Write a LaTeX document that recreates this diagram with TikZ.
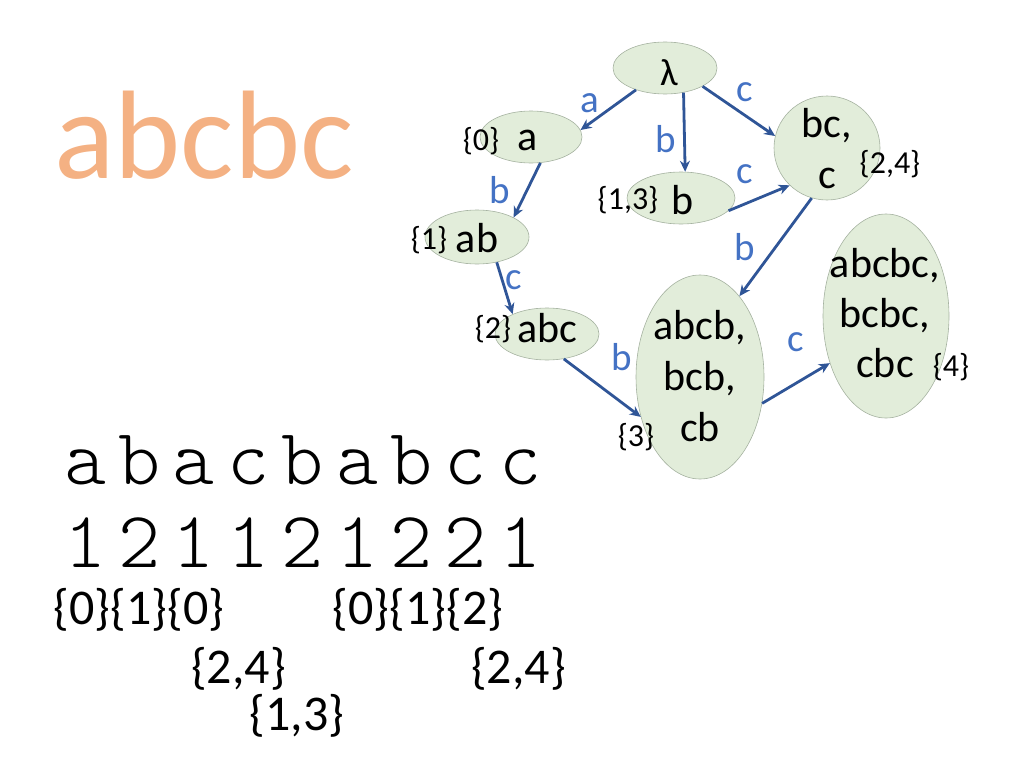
\documentclass[tikz,border=0pt]{standalone}
\usepackage{fontspec}
\setmainfont{Carlito}
\newfontfamily\courfont{Latin Modern Mono Light}
\usetikzlibrary{shapes.geometric,arrows.meta}
\definecolor{titleorange}{RGB}{244,177,131}
\definecolor{labblue}{RGB}{68,114,196}
\definecolor{arrowblue}{RGB}{47,85,151}
\definecolor{nodefill}{RGB}{226,237,218}
\definecolor{nodeline}{RGB}{165,178,160}
\newcommand\cellbox[1]{\makebox[54.4pt]{#1}}
\tikzset{
  state/.style={ellipse, draw=nodeline, line width=0.6pt, fill=nodefill, inner sep=0pt},
  nodetxt/.style={inner sep=0pt, align=center, font=\fontsize{42}{51}\selectfont},
  setlab/.style={inner sep=0pt, font=\fontsize{32}{38}\selectfont},
  edgelab/.style={inner sep=0pt, text=labblue, font=\fontsize{39}{44}\selectfont},
  trans/.style={draw=arrowblue, line width=2.8pt, -{Stealth[length=11pt,width=10pt]}},
  bigset/.style={inner sep=0pt, font=\fontsize{50}{58}\selectfont},
  mono/.style={inner sep=0pt, anchor=base west, font=\courfont\fontsize{80}{90}\selectfont}
}
\begin{document}
\begin{tikzpicture}[x=1pt,y=-1pt]
\useasboundingbox (0,0) rectangle (1024,768);
% title
\node[inner sep=0pt, anchor=base, text=titleorange, font=\fontsize{126}{136}\selectfont] (title) at (204,178) {abcbc};
% states
\node[state, minimum width=104pt, minimum height=52pt] (lam) at (665,68) {};
\node[state, minimum width=102pt, minimum height=52pt] (a) at (531,137) {};
\node[state, minimum width=108pt, minimum height=52pt] (b) at (681,198) {};
\node[state, minimum width=106pt, minimum height=104pt] (bc) at (827,148) {};
\node[state, minimum width=104pt, minimum height=54pt] (ab) at (477,237) {};
\node[state, minimum width=104pt, minimum height=52pt] (abc) at (547,334) {};
\node[state, minimum width=128pt, minimum height=204pt] (abcb) at (700,377) {};
\node[state, minimum width=126pt, minimum height=204pt] (abcbc) at (886,316) {};
% state texts
\node[inner sep=0pt, font=\fontsize{38}{44}\selectfont] (lamT) at (669,73) {λ};
\node[nodetxt] (aT) at (528,140) {a};
\node[nodetxt] (bT) at (683,200) {b};
\node[nodetxt] (bcT) at (827,148.5) {bc,\\c};
\node[nodetxt] (abT) at (477,238) {ab};
\node[nodetxt] (abcT) at (547,328) {abc};
\node[nodetxt] (abcbT) at (700,376) {abcb,\\bcb,\\cb};
\node[nodetxt, font=\fontsize{42}{50}\selectfont] (abcbcT) at (885,313) {abcbc,\\bcbc,\\cbc};
% set labels
\node[setlab] (s0) at (481,141) {\{0\}};
\node[setlab] (s13) at (628,200) {\{1,3\}};
\node[setlab] (s24) at (890,164) {\{2,4\}};
\node[setlab] (s1) at (429,240) {\{1\}};
\node[setlab] (s2) at (493,329) {\{2\}};
\node[setlab] (s3) at (636,437) {\{3\}};
\node[setlab] (s4) at (951,367) {\{4\}};
% transitions
\draw[trans] (lam.217) -- (a.8);
\draw[trans] (lam.-53) -- (b.81);
\draw[trans] (lam.-26) -- (bc.167);
\draw[trans] (b.-15) -- (bc.225);
\draw[trans] (a.-70) -- (ab.28);
\draw[trans] (bc.253) -- (abcb.64);
\draw[trans] (ab.-52) -- (abc.150);
\draw[trans] (abc.-56) -- (abcb.214);
\draw[trans] (abcb.-23) -- (abcbc.220);
% edge labels
\node[edgelab] (la) at (590,103) {a};
\node[edgelab] (lb1) at (666,139) {b};
\node[edgelab] (lc1) at (745,92) {c};
\node[edgelab] (lc2) at (745,174) {c};
\node[edgelab] (lb2) at (500,190) {b};
\node[edgelab] (lb3) at (745,247) {b};
\node[edgelab] (lc3) at (514,280) {c};
\node[edgelab] (lb4) at (622,357) {b};
\node[edgelab] (lc4) at (796,342) {c};
% bottom text
\node[mono] (word) at (57.8,484) {\cellbox{a}\cellbox{b}\cellbox{a}\cellbox{c}\cellbox{b}\cellbox{a}\cellbox{b}\cellbox{c}\cellbox{c}};
\node[mono] (digits) at (57.8,567) {\cellbox{1}\cellbox{2}\cellbox{1}\cellbox{1}\cellbox{2}\cellbox{1}\cellbox{2}\cellbox{2}\cellbox{1}};
\node[bigset] (setA) at (139,610) {\{0\}\{1\}\{0\}};
\node[bigset] (setB) at (418,610) {\{0\}\{1\}\{2\}};
\node[bigset] (setC) at (238.5,669) {\{2,4\}};
\node[bigset] (setD) at (518.5,669) {\{2,4\}};
\node[bigset] (setE) at (297,716) {\{1,3\}};
\end{tikzpicture}
\end{document}
